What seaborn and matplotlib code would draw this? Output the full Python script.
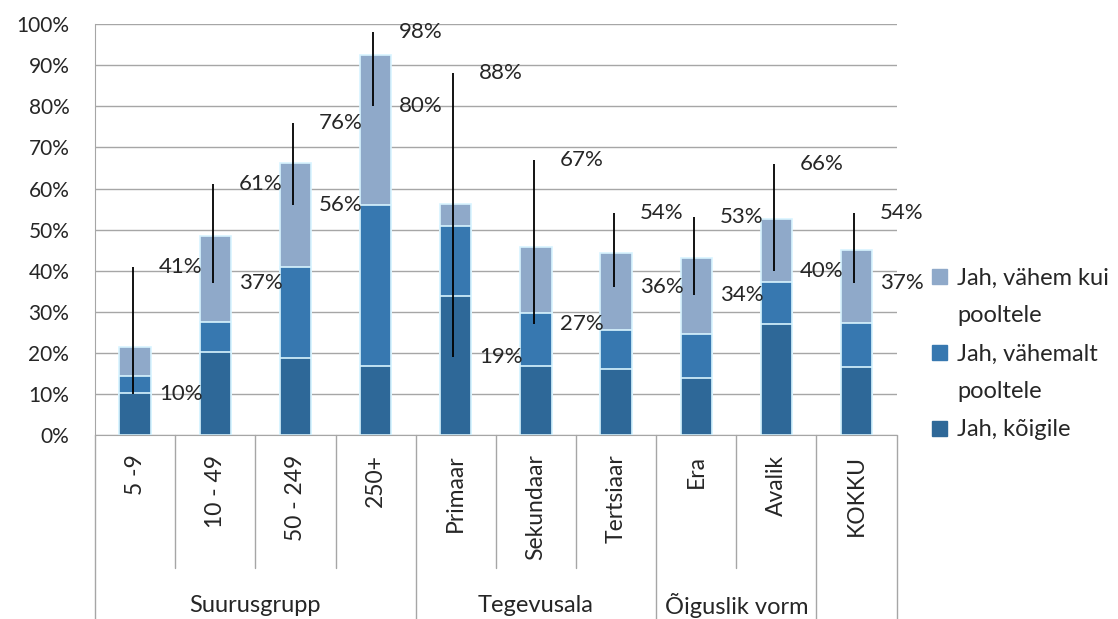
import matplotlib
matplotlib.use('Agg')
import numpy as np
import pandas as pd
import seaborn as sns
import matplotlib.pyplot as plt
from matplotlib.patches import Patch

categories = ['5 -9', '10 - 49', '50 - 249', '250+', 'Primaar',
              'Sekundaar', 'Tertsiaar', 'Era', 'Avalik', 'KOKKU']
# stacked shares, %
koigile = [10.3, 20.3, 18.7, 16.8, 33.9, 16.8, 16.0, 14.0, 27.0, 16.6]
vahemalt_pooltele = [4.1, 7.3, 22.3, 39.3, 17.0, 12.8, 9.7, 10.6, 10.3, 10.6]
vahem_kui_pooltele = [7.1, 20.9, 25.3, 36.5, 5.3, 16.1, 18.5, 18.4, 15.4, 17.8]
# confidence interval ends, %
ci_low = [10, 37, 56, 80, 19, 27, 36, 34, 40, 37]
ci_high = [41, 61, 76, 98, 88, 67, 54, 53, 66, 54]

groups = ['Suurusgrupp', 'Tegevusala', 'Õiguslik vorm', '']
group_sizes = [4, 3, 2, 1]
series_names = ['Jah, kõigile', 'Jah, vähemalt pooltele', 'Jah, vähem kui pooltele']
colors = ['#2E6898', '#3778B0', '#8FA9C9']
grey = '#A6A6A6'
txt = '#262626'

sns.set_style('white')
plt.rcParams['font.family'] = ['Lato', 'DejaVu Sans']

df = pd.DataFrame({'cat': categories, 'k': koigile,
                   'v1': vahemalt_pooltele, 'v2': vahem_kui_pooltele})
df['c1'] = df['k']
df['c2'] = df['c1'] + df['v1']
df['c3'] = df['c2'] + df['v2']

fig = plt.figure(figsize=(11.18, 6.19), dpi=100)
ax = fig.add_axes([0.085, 0.297, 0.717, 0.664])

# layered bars give the stacked look
for col, clr in zip(['c3', 'c2', 'c1'], colors[::-1]):
    sns.barplot(data=df, x='cat', y=col, color=clr, width=0.39, saturation=1,
                edgecolor='#D8F4FF', linewidth=1.2, ax=ax, zorder=2)

xs = np.arange(len(categories))
ax.vlines(xs - 0.03, ci_low, ci_high, color='black', lw=1.3, zorder=3)
for x, lo, hi in zip(xs, ci_low, ci_high):
    for v in (lo, hi):
        ax.annotate(f'{v}%', (x, v), xytext=(17, 0), textcoords='offset points',
                    ha='left', va='center', fontsize=16, color=txt, zorder=4)

ax.set_xlim(-0.5, len(categories) - 0.5)
ax.set_ylim(0, 100)
ax.set_yticks(range(0, 101, 10))
ax.set_yticklabels([f'{v}%' for v in range(0, 101, 10)])
ax.set_xticks(xs)
ax.set_xticklabels(categories, rotation=90, ha='center', va='top')
ax.set_xlabel('')
ax.set_ylabel('')
ax.yaxis.grid(True, color=grey, lw=1)
ax.set_axisbelow(True)
for s in ['top', 'right']:
    ax.spines[s].set_visible(False)
for s in ['left', 'bottom']:
    ax.spines[s].set_color(grey)
ax.tick_params(axis='y', length=6.5, color=grey, direction='out', labelsize=15,
               pad=12, labelcolor=txt)
ax.tick_params(axis='x', length=0, labelsize=16.5, pad=14, labelcolor=txt)

# multi-level category axis
trans = ax.get_xaxis_transform()
edges = np.concatenate([[0], np.cumsum(group_sizes)]) - 0.5
for b in np.arange(len(categories) + 1) - 0.5:
    depth = -0.448 if b in edges else -0.324
    ax.plot([b, b], [0, depth], transform=trans, clip_on=False, color=grey, lw=1)
for name, a, b in zip(groups, edges[:-1], edges[1:]):
    ax.text((a + b) / 2, -0.414, name, transform=trans, ha='center',
            va='center', fontsize=17, color=txt)

blank = Patch(facecolor='none', edgecolor='none')
handles = [Patch(color=colors[2]), blank, Patch(color=colors[1]), blank,
           Patch(color=colors[0])]
labels = ['Jah, vähem kui', 'pooltele', 'Jah, vähemalt', 'pooltele', 'Jah, kõigile']
fig.legend(handles, labels, loc='upper left', bbox_to_anchor=(0.834, 0.568),
           frameon=False, handlelength=0.6, handleheight=0.6, handletextpad=0.45,
           labelspacing=0.72, fontsize=17, borderaxespad=0, borderpad=0,
           labelcolor=txt)

fig.savefig('out.png', dpi=100)
